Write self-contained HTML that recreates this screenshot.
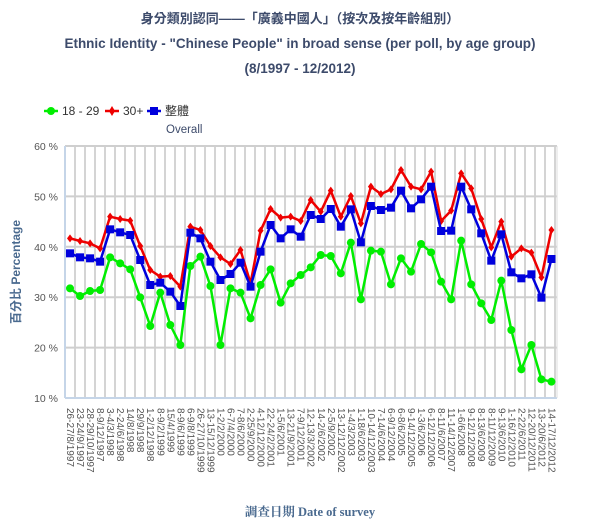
<!DOCTYPE html>
<html><head><meta charset="utf-8"><style>
html,body{margin:0;padding:0;background:#fff;}
svg{display:block;font-family:"Liberation Sans","Noto Sans CJK TC",sans-serif;}
</style></head><body>
<svg id="s" width="600" height="532" xmlns="http://www.w3.org/2000/svg">
<text x="300" y="23" text-anchor="middle" font-size="13" font-weight="bold" fill="#3d4b6b">身分類別認同——「廣義中國人」（按次及按年齡組別）</text>
<text x="300" y="48" text-anchor="middle" font-size="13.5" font-weight="bold" fill="#3d4b6b">Ethnic Identity - "Chinese People" in broad sense (per poll, by age group)</text>
<text x="300" y="73" text-anchor="middle" font-size="13.5" font-weight="bold" fill="#3d4b6b">(8/1997 - 12/2012)</text>
<g font-size="12" fill="#333">
<line x1="44" y1="111" x2="58" y2="111" stroke="#00ee00" stroke-width="2.5"/><circle cx="51" cy="111" r="4" fill="#00ee00"/>
<text x="62" y="115">18 - 29</text>
<line x1="105" y1="111" x2="119" y2="111" stroke="#ee0000" stroke-width="2.5"/><path d="M112 106 L115 111 L112 116 L109 111Z" fill="#ee0000"/>
<text x="123" y="115">30+</text>
<line x1="147" y1="111" x2="161" y2="111" stroke="#0000dd" stroke-width="2.5"/><rect x="150" y="107" width="8" height="8" fill="#0000dd"/>
<text x="165" y="115">整體</text>
<text x="166" y="133" fill="#3d4b6b" font-size="11.5">Overall</text>
</g>
<g id="grid"></g>
<g id="data"></g>
<text transform="translate(20,272) rotate(-90)" text-anchor="middle" font-size="12" font-weight="bold" fill="#4a6a8f">百分比 Percentage</text>
<text x="310" y="516" text-anchor="middle" font-size="12.5" font-weight="bold" fill="#4a6a8f" font-family="Liberation Serif,Noto Serif CJK SC,serif">調查日期 Date of survey</text>
</svg>
<script>
var NS="http://www.w3.org/2000/svg";
function el(p,t,a,txt){var e=document.createElementNS(NS,t);for(var k in a)e.setAttribute(k,a[k]);if(txt)e.textContent=txt;p.appendChild(e);return e;}
var g=document.getElementById('grid'),d=document.getElementById('data');
var L=65,R=557,T=146,B=398;
for(var i=0;i<49;i++){var x=75+10*i;if(x<R)el(g,'line',{x1:x,y1:T,x2:x,y2:B,stroke:'#d4d4d4','stroke-width':2});}
for(var v=60;v>=10;v-=10){var y=T+(60-v)*(B-T)/50;el(g,'line',{x1:L,y1:y,x2:R,y2:y,stroke:'#cfcfcf','stroke-width':2});
el(g,'text',{x:58,y:y+4,'text-anchor':'end','font-size':'10.5',fill:'#555'},v+' %');}
el(g,'line',{x1:L,y1:T,x2:L,y2:B,stroke:'#c5d5e8','stroke-width':2});
el(g,'line',{x1:L,y1:B,x2:R,y2:B,stroke:'#c5d5e8','stroke-width':2});
el(g,'line',{x1:R,y1:T,x2:R,y2:B,stroke:'#ddd','stroke-width':1});
var gr=[445,468,453,450,352,370,388,472,558,458,555,615,378,350,438,615,445,458,535,435,388,488,430,405,382,345,348,400,308,478,332,335,433,355,395,312,337,425,478,302,433,490,540,422,570,688,615,718,725];
var rd=[295,303,310,325,230,237,242,318,390,410,408,440,260,270,318,352,372,330,430,272,207,233,230,243,180,215,152,230,168,250,140,162,148,90,140,148,95,243,212,100,145,237,322,245,350,325,338,412,270];
var bl=[340,352,355,365,268,277,285,360,435,428,455,498,278,295,365,420,402,368,440,335,255,295,268,290,225,237,207,260,208,307,198,210,203,152,205,178,140,273,272,140,208,280,362,283,397,415,403,473,357];
function pts(a){return a.map(function(z,i){return [70+10.03*i,140+z/3];});}
function series(a,c,m){var p=pts(a);el(d,'polyline',{points:p.map(function(q){return q.join(',')}).join(' '),fill:'none',stroke:c,'stroke-width':2.5,'stroke-linejoin':'round'});
p.forEach(function(q){if(m=='c')el(d,'circle',{cx:q[0],cy:q[1],r:4,fill:c});else if(m=='s')el(d,'rect',{x:q[0]-4,y:q[1]-4,width:8,height:8,fill:c});else el(d,'path',{d:'M'+q[0]+' '+(q[1]-4)+'L'+(q[0]+3)+' '+q[1]+'L'+q[0]+' '+(q[1]+4)+'L'+(q[0]-3)+' '+q[1]+'Z',fill:c});});}
series(gr,'#00ee00','c');series(rd,'#ee0000','d');series(bl,'#0000dd','s');
var labs=["26-27/8/1997","23-24/9/1997","28-29/10/1997","8-9/12/1997","3-4/3/1998","2-24/6/1998","14/8/1998","29/9/1998","1-2/12/1998","8-9/2/1999","15/4/1999","8-9/6/1999","6-9/8/1999","26-27/10/1999","13-15/12/1999","1-2/2/2000","6-7/4/2000","7-8/6/2000","2-25/9/2000","4-12/12/2000","22-24/2/2001","1-5/6/2001","13-21/9/2001","7-9/12/2001","12-13/3/2002","14-2/6/2002","2-5/9/2002","13-12/12/2002","1-4/3/2003","1-18/6/2003","10-14/12/2003","7-14/6/2004","6-9/12/2004","6-8/6/2005","9-14/12/2005","1-3/6/2006","6-12/12/2006","8-11/6/2007","11-14/12/2007","1-6/6/2008","9-12/12/2008","8-13/6/2009","8-11/12/2009","9-13/6/2010","1-16/12/2010","2-22/6/2011","12-20/12/2011","13-20/6/2012","14-17/12/2012"];
labs.forEach(function(s,i){var x=70+10.03*i-3;el(g,'text',{transform:'translate('+x+',408) rotate(90)','font-size':'10',fill:'#555'},s);});
</script>
</body></html>
